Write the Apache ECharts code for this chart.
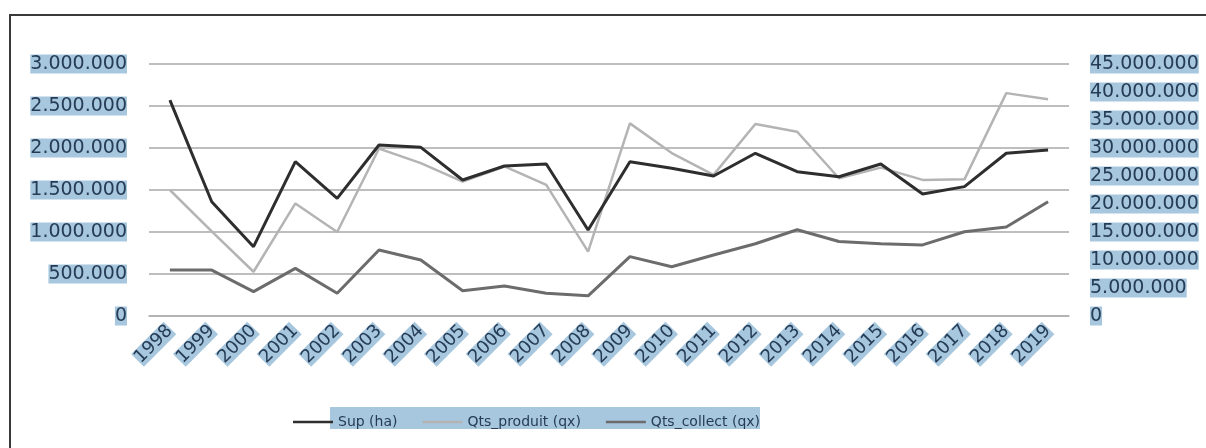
<!DOCTYPE html>
<html>
<head>
<meta charset="utf-8">
<script src="https://cdn.jsdelivr.net/npm/echarts@6/dist/echarts.min.js"></script>
<style>
  html, body { margin: 0; padding: 0; background: #ffffff; }
  #chart { width: 1206px; height: 448px; }
</style>
</head>
<body>
<div id="chart"></div>
<script>
// years on the x axis
var years = ["1998","1999","2000","2001","2002","2003","2004","2005","2006","2007","2008",
             "2009","2010","2011","2012","2013","2014","2015","2016","2017","2018","2019"];

// Sup (ha) - left axis
var supHa = [2570000, 1360000, 825000, 1837000, 1400000, 2036000, 2008000, 1619000, 1786000, 1810000, 1024000,
             1837000, 1758000, 1667000, 1937000, 1718000, 1658000, 1810000, 1452000, 1540000, 1937000, 1976000];

// Qts_produit (qx) - right axis
var qtsProduit = [22500000, 15100000, 7900000, 20100000, 15000000, 29900000, 27300000, 24000000, 26700000, 23400000, 11500000,
                  34400000, 29100000, 25200000, 34300000, 32900000, 24600000, 26500000, 24300000, 24400000, 39800000, 38700000];

// Qts_collect (qx) - right axis
var qtsCollect = [8200000, 8200000, 4350000, 8500000, 4050000, 11800000, 10000000, 4500000, 5350000, 4050000, 3600000,
                  10600000, 8800000, 10900000, 12900000, 15400000, 13300000, 12900000, 12700000, 15050000, 15900000, 20400000];

var seriesNames = ["Sup (ha)", "Qts_produit (qx)", "Qts_collect (qx)"];

var hl = "#a7c7de";      // the blue highlight behind texts
var txt = "#263c56";

function fmt(v) {
  return String(v).replace(/\B(?=(\d{3})+(?!\d))/g, ".");
}

var chart = echarts.init(document.getElementById("chart"));

var option = {
  backgroundColor: "#ffffff",
  animation: false,
  textStyle: { fontFamily: "DejaVu Sans" },
  graphic: [
    {
      type: "rect",
      shape: { x: 10, y: 15, width: 1220, height: 460 },
      style: { fill: null, stroke: "#3a3a3a", lineWidth: 2 },
      silent: true
    },
    {
      // band behind the legend texts
      type: "rect",
      z: -1,
      shape: { x: 330, y: 407, width: 430, height: 22 },
      style: { fill: hl },
      silent: true
    }
  ],
  grid: { left: 149, right: 137, top: 64, bottom: 132 },
  legend: {
    data: seriesNames,
    left: 288,
    top: 410,
    icon: "rect",
    itemWidth: 40,
    itemHeight: 2.5,
    itemGap: 25,
    textStyle: { fontSize: 14, color: txt, fontFamily: "DejaVu Sans" }
  },
  xAxis: {
    type: "category",
    data: years,
    boundaryGap: true,
    axisLine: { lineStyle: { color: "#b0b0b0", width: 1.5 } },
    axisTick: { show: false },
    axisLabel: {
      rotate: 45,
      margin: 12,
      interval: 0,
      fontSize: 18,
      color: txt,
      backgroundColor: hl
    }
  },
  yAxis: [
    {
      type: "value",
      min: 0,
      max: 3000000,
      interval: 500000,
      axisLine: { show: false },
      axisTick: { show: false },
      splitLine: { lineStyle: { color: "#a8a8a8", width: 1.5 } },
      axisLabel: {
        margin: 22,
        fontSize: 19,
        color: txt,
        backgroundColor: hl,
        formatter: fmt
      }
    },
    {
      type: "value",
      min: 0,
      max: 45000000,
      interval: 5000000,
      axisLine: { show: false },
      axisTick: { show: false },
      splitLine: { show: false },
      axisLabel: {
        margin: 21,
        fontSize: 19,
        color: txt,
        backgroundColor: hl,
        formatter: fmt
      }
    }
  ],
  series: [
    {
      name: seriesNames[0],
      type: "line",
      yAxisIndex: 0,
      data: supHa,
      symbol: "none",
      z: 4,
      lineStyle: { color: "#2e2e2e", width: 3 },
      itemStyle: { color: "#2e2e2e" }
    },
    {
      name: seriesNames[1],
      type: "line",
      yAxisIndex: 1,
      data: qtsProduit,
      symbol: "none",
      z: 2,
      lineStyle: { color: "#b4b4b4", width: 2.5 },
      itemStyle: { color: "#b4b4b4" }
    },
    {
      name: seriesNames[2],
      type: "line",
      yAxisIndex: 1,
      data: qtsCollect,
      symbol: "none",
      z: 3,
      lineStyle: { color: "#6c6c6c", width: 3 },
      itemStyle: { color: "#6c6c6c" }
    }
  ]
};

chart.setOption(option);
</script>
</body>
</html>
